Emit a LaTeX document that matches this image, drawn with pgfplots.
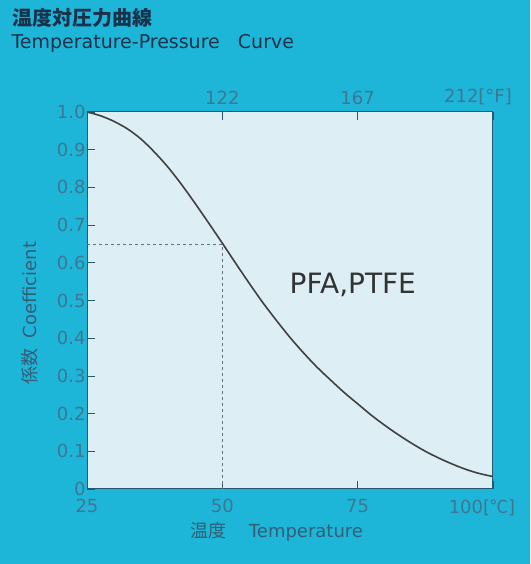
\documentclass[border=0pt]{standalone}
\usepackage{pgfplots}
\pgfplotsset{compat=1.18}
\usepackage{fontspec}
\setmainfont{DejaVu Sans}
\newfontfamily\cjk{Noto Sans CJK JP}
\definecolor{bgcol}{RGB}{30,182,216}
\definecolor{plotbg}{RGB}{221,238,245}
\definecolor{tickcol}{RGB}{62,118,148}
\definecolor{axiscol}{RGB}{40,88,110}
\definecolor{titlecol}{RGB}{25,50,75}
\definecolor{curvecol}{RGB}{65,65,65}
\begin{document}
\begin{tikzpicture}
\fill[bgcol] (0,0) rectangle (530pt,564pt);
\begin{axis}[
  at={(87pt,75pt)}, anchor=south west,
  scale only axis, width=406pt, height=377pt,
  xmin=25, xmax=100, ymin=0, ymax=1,
  axis background/.style={fill=plotbg},
  axis line style={draw=axiscol, line width=1pt},
  tick align=inside, major tick length=8pt,
  tick style={draw=axiscol, line width=0.6pt},
  xtick pos=bottom, ytick pos=left,
  xtick={25,50,75,100},
  xticklabels={25,50,75,{\hspace*{-22pt}100[{\cjk ℃}]}},
  ytick={0,0.1,0.2,0.3,0.4,0.5,0.6,0.7,0.8,0.9,1.0},
  yticklabels={0,0.1,0.2,0.3,0.4,0.5,0.6,0.7,0.8,0.9,1.0},
  /pgf/number format/assume math mode=true,
  ticklabel style={font=\fontsize{18pt}{20pt}\selectfont, text=tickcol},
  xticklabel style={yshift=-7pt},
  yticklabel style={xshift=2pt},
]
\addplot[gray!70!axiscol, dashed, line width=0.5pt] coordinates {(25,0.65) (50,0.65) (50,0)};
\addplot[curvecol, line width=1.6pt, smooth, tension=0.5] coordinates {
(25,1.0) (27.5,0.99) (30,0.975) (32.5,0.955) (35,0.928) (37.5,0.893) (40,0.853)
(42.5,0.807) (45,0.757) (47.5,0.705) (50,0.652) (52.5,0.598) (55,0.545) (57.5,0.494)
(60,0.447) (62.5,0.402) (65,0.361) (67.5,0.323) (70,0.289) (72.5,0.256) (75,0.226)
(77.5,0.196) (80,0.169) (82.5,0.144) (85,0.121) (87.5,0.1) (90,0.082) (92.5,0.066)
(95,0.052) (97.5,0.041) (100,0.033)};
\node[font=\fontsize{28pt}{30pt}\selectfont, text=black!80] at (axis cs:74.1,0.54) {PFA,PTFE};
\end{axis}
\begin{axis}[
  at={(87pt,75pt)}, anchor=south west,
  scale only axis, width=406pt, height=377pt,
  xmin=25, xmax=100, ymin=0, ymax=1,
  axis x line*=top, axis y line=none,
  axis line style={draw=axiscol, line width=1pt},
  tick align=inside, major tick length=8pt,
  tick style={draw=axiscol, line width=0.6pt},
  xtick={50,75,100},
  xticklabels={122,167,{\hspace*{-30pt}212[°F]}},
  /pgf/number format/assume math mode=true,
  ticklabel style={font=\fontsize{18pt}{20pt}\selectfont, text=tickcol},
  xticklabel style={yshift=4pt},
]
\addplot[draw=none] coordinates {(25,0) (100,1)};
\end{axis}
\node[anchor=west, text=titlecol, font=\cjk\bfseries\fontsize{20pt}{22pt}\selectfont] at (9pt,546pt) {温度対圧力曲線};
\node[anchor=west, text=titlecol, font=\fontsize{19pt}{21pt}\selectfont] at (8pt,521pt) {Temperature-Pressure\ \ \ Curve};
\node[text=tickcol!80!black, font=\fontsize{18pt}{20pt}\selectfont] at (277pt,32pt) {{\cjk 温度}\hspace{22pt}Temperature};
\node[rotate=90, text=tickcol!80!black, font=\fontsize{18pt}{20pt}\selectfont] at (30pt,251pt) {{\cjk 係数}\hspace{10pt}Coefficient};
\end{tikzpicture}
\end{document}
